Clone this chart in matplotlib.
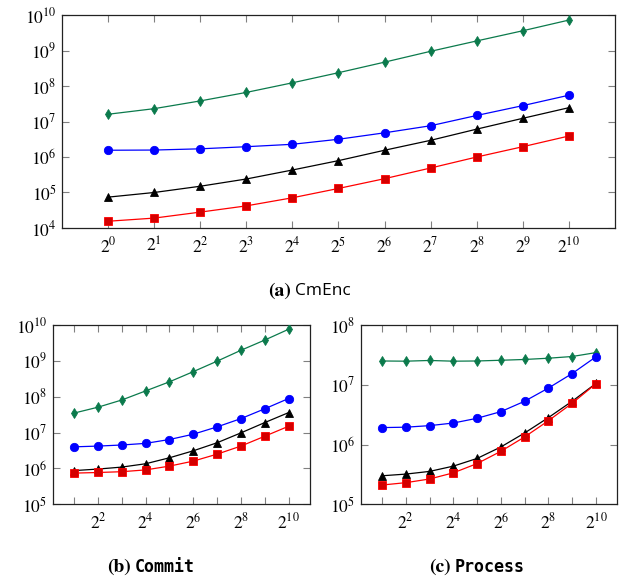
import matplotlib
matplotlib.use("Agg")
import matplotlib.pyplot as plt
from matplotlib.ticker import FixedLocator, FuncFormatter, NullLocator
import numpy as np

plt.rcParams['font.family'] = ['STIXGeneral', 'DejaVu Serif']
plt.rcParams['mathtext.fontset'] = 'stix'

# ---- data ----
exp_a = [0, 1, 2, 3, 4, 5, 6, 7, 8, 9, 10]
a_green = [1.6e7, 2.3e7, 3.8e7, 6.6e7, 1.23e8, 2.37e8, 4.7e8, 9.5e8, 1.86e9, 3.6e9, 7.2e9]
a_blue = [1.55e6, 1.57e6, 1.7e6, 1.95e6, 2.28e6, 3.16e6, 4.8e6, 7.6e6, 1.48e7, 2.8e7, 5.5e7]
a_black = [7.4e4, 1.0e5, 1.5e5, 2.4e5, 4.3e5, 7.9e5, 1.55e6, 2.95e6, 6.1e6, 1.23e7, 2.45e7]
a_red = [1.55e4, 1.9e4, 2.8e4, 4.2e4, 7.1e4, 1.3e5, 2.45e5, 4.9e5, 1.0e6, 1.95e6, 3.9e6]

exp_bc = [1, 2, 3, 4, 5, 6, 7, 8, 9, 10]
b_green = [3.5e7, 5.1e7, 8.1e7, 1.45e8, 2.6e8, 5.0e8, 9.8e8, 1.97e9, 3.8e9, 7.6e9]
b_blue = [4.0e6, 4.2e6, 4.5e6, 5.0e6, 6.4e6, 9.0e6, 1.44e7, 2.45e7, 4.6e7, 8.9e7]
b_black = [8.7e5, 9.6e5, 1.09e6, 1.35e6, 1.98e6, 3.1e6, 5.2e6, 9.8e6, 1.9e7, 3.6e7]
b_red = [7.4e5, 7.7e5, 8.1e5, 9.1e5, 1.16e6, 1.6e6, 2.5e6, 4.2e6, 7.9e6, 1.5e7]

c_green = [2.5e7, 2.48e7, 2.55e7, 2.48e7, 2.5e7, 2.57e7, 2.65e7, 2.78e7, 2.97e7, 3.45e7]
c_blue = [1.92e6, 1.95e6, 2.07e6, 2.29e6, 2.75e6, 3.55e6, 5.3e6, 8.8e6, 1.54e7, 2.93e7]
c_black = [3.0e5, 3.2e5, 3.55e5, 4.35e5, 5.85e5, 9.1e5, 1.56e6, 2.82e6, 5.3e6, 1.05e7]
c_red = [2.1e5, 2.3e5, 2.65e5, 3.36e5, 4.8e5, 7.7e5, 1.34e6, 2.5e6, 4.9e6, 1.04e7]

GREEN = '#0b7a4c'
BLUE = '#0000ff'
BLACK = '#000000'
RED = '#ff0000'

fig = plt.figure(figsize=(6.23, 5.84), dpi=100)


def style(ax, x, series, xlim, ylim, xticks, xlabels_every, ydecades):
    specs = [
        (series[0], GREEN, 'd', GREEN, 5.5, GREEN),
        (series[1], BLUE, 'o', BLUE, 6.0, BLUE),
        (series[2], BLACK, '^', BLACK, 5.5, BLACK),
        (series[3], RED, 's', '#d40000', 5.5, RED),
    ]
    for ys, c, m, fc, ms, ec in specs:
        ax.plot(x, ys, color=c, lw=0.9, marker=m, markersize=ms,
                markerfacecolor=fc, markeredgecolor=ec, markeredgewidth=0.6,
                zorder=3)
    ax.set_yscale('log')
    ax.set_xlim(*xlim)
    ax.set_ylim(*ylim)
    ax.xaxis.set_major_locator(FixedLocator(xticks))
    ax.xaxis.set_minor_locator(NullLocator())
    ax.xaxis.set_major_formatter(FuncFormatter(
        lambda v, p: (r'$2^{%d}$' % int(round(v))) if int(round(v)) % xlabels_every == 0 else ''))
    ax.yaxis.set_major_locator(FixedLocator([10.0 ** d for d in ydecades]))
    ax.yaxis.set_minor_locator(NullLocator())
    ax.yaxis.set_major_formatter(FuncFormatter(lambda v, p: r'$10^{%d}$' % int(round(np.log10(v)))))
    ax.tick_params(axis='both', which='major', direction='in', length=5, width=0.8,
                   color='#808080', top=True, right=True, labelsize=12.5, pad=4)
    ax.tick_params(axis='x', pad=6)
    for s in ax.spines.values():
        s.set_linewidth(0.9)
        s.set_color('#222222')


ax1 = fig.add_axes([0.0995, 0.6096, 0.8876, 0.3647])
style(ax1, exp_a, [a_green, a_blue, a_black, a_red], (-1, 11), (1e4, 1e10),
      exp_a, 1, range(4, 11))

ax2 = fig.add_axes([0.0846, 0.1365, 0.4130, 0.3070])
style(ax2, exp_bc, [b_green, b_blue, b_black, b_red], (0.1, 10.9), (1e5, 1e10),
      exp_bc, 2, range(5, 11))

ax3 = fig.add_axes([0.5790, 0.1365, 0.4118, 0.3070])
style(ax3, exp_bc, [c_green, c_blue, c_black, c_red], (0.1, 10.9), (1e5, 1e8),
      exp_bc, 2, range(5, 9))

# captions
def caption(xc, y, label, name, namefam, nameweight, namesize):
    t1 = fig.text(0, 0, label, fontsize=14, fontweight='bold', family='STIXGeneral')
    t2 = fig.text(0, 0, name, fontsize=namesize, fontweight=nameweight, family=namefam)
    fig.canvas.draw()
    r = fig.canvas.get_renderer()
    w1 = t1.get_window_extent(r).width
    w2 = t2.get_window_extent(r).width
    gap = 4
    W = fig.bbox.width
    H = fig.bbox.height
    x0 = xc - (w1 + gap + w2) / 2
    t1.set_position((x0 / W, 1 - y / H))
    t2.set_position(((x0 + w1 + gap) / W, 1 - y / H))
    t1.set_va('center'); t2.set_va('center')


caption(309, 291, '(a)', 'CmEnc', 'Open Sans', 'normal', 12.5)
caption(151, 567, '(b)', 'Commit', 'DejaVu Sans Mono', 'bold', 12)
caption(477, 567, '(c)', 'Process', 'DejaVu Sans Mono', 'bold', 12)

fig.savefig('out.png', dpi=100)
